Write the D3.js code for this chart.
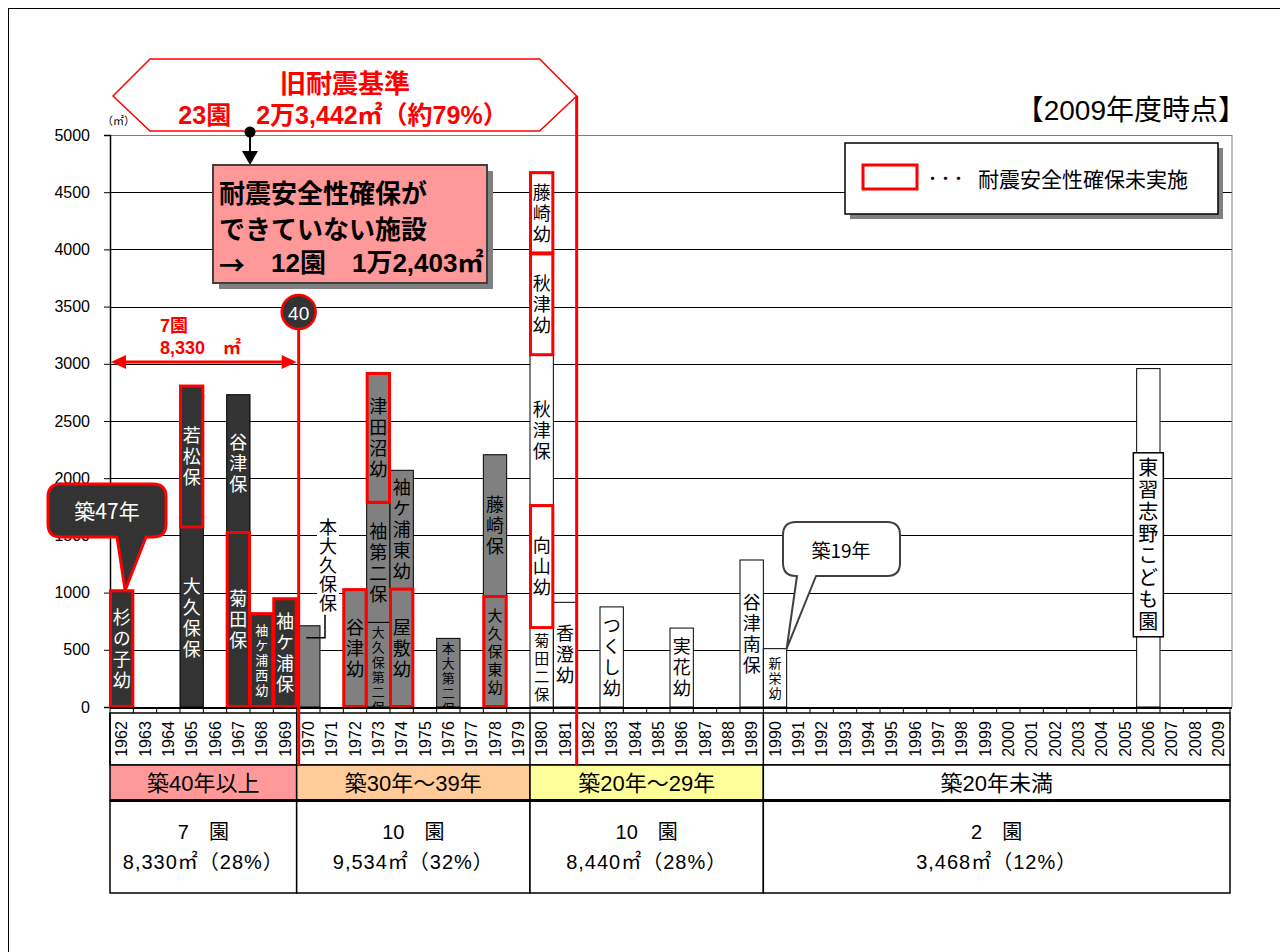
<!DOCTYPE html>
<html>
<head>
<meta charset="utf-8">
<script src="https://cdn.jsdelivr.net/npm/d3@7"></script>
<style>
  body { margin: 0; background: #fff; }
  svg { display: block; }
</style>
</head>
<body>
<svg id="chart"></svg>
<script>
// categories (construction year)
const years = [1962, 1963, 1964, 1965, 1966, 1967, 1968, 1969, 1970, 1971, 1972, 1973, 1974, 1975, 1976, 1977, 1978, 1979,
  1980, 1981, 1982, 1983, 1984, 1985, 1986, 1987, 1988, 1989, 1990, 1991, 1992, 1993, 1994, 1995, 1996, 1997, 1998, 1999,
  2000, 2001, 2002, 2003, 2004, 2005, 2006, 2007, 2008, 2009];

// facilities, stacked bottom to top inside each year
const segYear = [1962, 1965, 1965, 1967, 1967, 1968, 1969,
  1970, 1972, 1973, 1973, 1973, 1974, 1974, 1976, 1978, 1978,
  1980, 1980, 1980, 1980, 1980, 1981, 1983, 1986, 1989,
  1990, 2006];
const segName = ["杉の子幼", "大久保保", "若松保", "菊田保", "谷津保", "袖ケ浦西幼", "袖ケ浦保",
  "本大久保保", "谷津幼", "大久保第二保", "袖第二保", "津田沼幼", "屋敷幼", "袖ケ浦東幼", "本大第二保", "大久保東幼", "藤崎保",
  "菊田二保", "向山幼", "秋津保", "秋津幼", "藤崎幼", "香澄幼", "つくし幼", "実花幼", "谷津南保",
  "新栄幼", "東習志野こども園"];
const segArea = [1020, 1570, 1240, 1530, 1200, 820, 950,
  710, 1030, 740, 1045, 1135, 1035, 1034, 600, 970, 1235,
  690, 1075, 1310, 890, 710, 915, 875, 690, 1285,
  510, 2958];
// 耐震安全性確保未実施
const segUnsafe = [true, false, true, true, false, true, true,
  false, true, false, false, true, true, false, false, true, false,
  false, true, false, true, true, false, false, false, false,
  false, false];
const outsideLabels = ["本大久保保"];
const boxedLabels = ["東習志野こども園"];

const yTicks = [0, 500, 1000, 1500, 2000, 2500, 3000, 3500, 4000, 4500, 5000];

// age groups for the table under the chart
const groupStart = [1962, 1970, 1980, 1990];
const groupLabel = ["築40年以上", "築30年～39年", "築20年～29年", "築20年未満"];
const groupCount = ["7　園", "10　園", "10　園", "2　園"];
const groupArea = ["8,330㎡（28%）", "9,534㎡（32%）", "8,440㎡（28%）", "3,468㎡（12%）"];
const groupFill = ["#ff9999", "#ffcc99", "#ffff99", "#ffffff"];

const JP = '"Noto Sans CJK JP", sans-serif';
const MIX = '"Liberation Sans", Arial, "Noto Sans CJK JP", sans-serif';
const RED = "#ff0000";

const svg = d3.select("#chart").attr("width", 1287).attr("height", 952);

const x = d3.scaleBand().domain(years).range([110, 1230]).padding(0);
const bw = x.bandwidth();
const y = d3.scaleLinear().domain([0, 5000]).range([707, 135]);

// page frame
svg.append("line").attr("x1", 8.5).attr("x2", 8.5).attr("y1", 8).attr("y2", 952).attr("stroke", "#000");
svg.append("line").attr("x1", 8).attr("x2", 1280).attr("y1", 8.5).attr("y2", 8.5).attr("stroke", "#000");

// gridlines
svg.append("g").selectAll("line").data(yTicks.slice(1)).join("line")
  .attr("x1", 110).attr("x2", 1232)
  .attr("y1", d => Math.round(y(d)) + 0.5).attr("y2", d => Math.round(y(d)) + 0.5)
  .attr("stroke", d => d === 5000 ? "#808080" : "#000").attr("stroke-width", 1);
svg.append("line").attr("x1", 1232).attr("x2", 1232).attr("y1", y(5000)).attr("y2", y(0))
  .attr("stroke", "#808080");

// y axis
const yAxis = svg.append("g").attr("transform", "translate(110,0)")
  .call(d3.axisLeft(y).tickValues(yTicks).tickSize(6).tickPadding(14).tickFormat(d3.format("d")));
yAxis.select(".domain").attr("stroke-width", 1.5);
yAxis.selectAll("text").style("font-family", MIX).style("font-size", "16px").attr("fill", "#000");
svg.append("text").attr("x", 102).attr("y", 125).text("（㎡）")
  .style("font-family", JP).style("font-size", "11px");

// stacked segments
const segs = segName.map((n, i) => ({ name: n, year: segYear[i], area: segArea[i], unsafe: segUnsafe[i] }));
const acc = {};
segs.forEach(s => { s.y0 = acc[s.year] || 0; s.y1 = s.y0 + s.area; acc[s.year] = s.y1; });
const fillFor = yr => yr < 1970 ? "#333333" : yr < 1980 ? "#808080" : "#ffffff";

svg.append("defs").append("clipPath").attr("id", "plotclip")
  .append("rect").attr("x", 110).attr("y", y(5000)).attr("width", 1122).attr("height", y(0) - y(5000));

const barG = svg.append("g");
barG.selectAll("rect").data(segs).join("rect")
  .attr("x", d => x(d.year)).attr("y", d => y(d.y1))
  .attr("width", bw).attr("height", d => y(d.y0) - y(d.y1))
  .attr("fill", d => fillFor(d.year)).attr("stroke", "#000").attr("stroke-width", 1);

barG.append("g").selectAll("rect").data(segs.filter(d => d.unsafe)).join("rect")
  .attr("x", d => x(d.year) + 0.5).attr("y", d => y(d.y1) + 0.5)
  .attr("width", bw - 1).attr("height", d => y(d.y0) - y(d.y1) - 1)
  .attr("fill", "none").attr("stroke", RED).attr("stroke-width", 3);

// vertical text, centred on (cx, cy)
function vtext(g, str, cx, cy, size, step, color, weight) {
  const ls = step - size;
  return g.append("text").attr("x", cx).attr("y", cy + ls / 2)
    .attr("text-anchor", "middle")
    .style("writing-mode", "vertical-rl")
    .style("letter-spacing", ls + "px")
    .style("font-family", JP).style("font-size", size + "px")
    .style("font-weight", weight || "normal").attr("fill", color)
    .text(str);
}

const tiers = [{ size: 18, step: 21 }, { size: 15, step: 18 }, { size: 13, step: 15 }];
const labelG = svg.append("g").attr("clip-path", "url(#plotclip)");
segs.forEach(s => {
  const n = Array.from(s.name).length;
  const top = y(s.y1), bot = y(s.y0), h = bot - top;
  const cx = x(s.year) + bw / 2;
  const col = s.year < 1970 ? "#fff" : "#000";
  if (outsideLabels.includes(s.name)) {
    const tx = x(s.year) + bw + 8, tTop = top - 110;
    labelG.append("rect").attr("x", tx - 11).attr("y", tTop).attr("width", 22).attr("height", n * 19 + 4).attr("fill", "#fff");
    vtext(labelG, s.name, tx, tTop + 2 + n * 19 / 2, 18, 19, "#000");
    labelG.append("path")
      .attr("d", `M${cx - 2},${top + 12}H${tx - 3}V${tTop + n * 19 + 4}`)
      .attr("fill", "none").attr("stroke", "#000").attr("stroke-width", 1.5);
    return;
  }
  if (boxedLabels.includes(s.name)) {
    const step = 22, bh = n * step + 8, cy = (top + bot) / 2 + 7;
    labelG.append("rect").attr("x", cx - 15).attr("y", cy - bh / 2).attr("width", 30).attr("height", bh)
      .attr("fill", "#fff").attr("stroke", "#000").attr("stroke-width", 1.5);
    vtext(labelG, s.name, cx, cy, 20, step, "#000");
    return;
  }
  let tier = tiers.find(t => n * t.step <= h - 6);
  if (tier) {
    vtext(labelG, s.name, cx, (top + bot) / 2, tier.size, tier.step, col);
  } else {
    tier = tiers[tiers.length - 1];
    vtext(labelG, s.name, cx, top + 2 + n * tier.step / 2, tier.size, tier.step, col);
  }
});

// x axis, ticks and year label box
svg.append("line").attr("x1", 110).attr("x2", 1232).attr("y1", 708).attr("y2", 708)
  .attr("stroke", "#000").attr("stroke-width", 2);
svg.append("g").selectAll("line").data(years.concat([null])).join("line")
  .attr("x1", d => d === null ? 1230 : x(d)).attr("x2", d => d === null ? 1230 : x(d))
  .attr("y1", 708).attr("y2", 713).attr("stroke", "#000");
svg.append("rect").attr("x", 110).attr("y", 713).attr("width", 1120).attr("height", 52)
  .attr("fill", "none").attr("stroke", "#000").attr("stroke-width", 1.5);
svg.append("g").selectAll("text").data(years).join("text")
  .attr("transform", d => `translate(${x(d) + bw / 2},739) rotate(-90)`)
  .attr("text-anchor", "middle").attr("dominant-baseline", "central")
  .style("font-family", MIX).style("font-size", "16px").text(d => d);

// table
const gx0 = i => x(groupStart[i]);
const gx1 = i => i < groupStart.length - 1 ? x(groupStart[i + 1]) : 1230;
const tbl = svg.append("g");
groupStart.forEach((g, i) => {
  tbl.append("line").attr("x1", gx0(i)).attr("x2", gx0(i)).attr("y1", 713).attr("y2", 765)
    .attr("stroke", "#000").attr("stroke-width", 1.5);
  tbl.append("rect").attr("x", gx0(i)).attr("y", 765).attr("width", gx1(i) - gx0(i)).attr("height", 35)
    .attr("fill", groupFill[i]).attr("stroke", "#000").attr("stroke-width", 1.5);
  tbl.append("rect").attr("x", gx0(i)).attr("y", 800).attr("width", gx1(i) - gx0(i)).attr("height", 93)
    .attr("fill", "#fff").attr("stroke", "#000").attr("stroke-width", 1.5);
  const cx = (gx0(i) + gx1(i)) / 2;
  tbl.append("text").attr("x", cx).attr("y", 783).text(groupLabel[i])
    .attr("text-anchor", "middle").attr("dominant-baseline", "central")
    .style("font-family", MIX).style("font-size", "22px");
  tbl.append("text").attr("x", cx).attr("y", 832).text(groupCount[i])
    .attr("text-anchor", "middle").attr("dominant-baseline", "central")
    .style("font-family", MIX).style("font-size", "20px");
  tbl.append("text").attr("x", cx).attr("y", 862).text(groupArea[i])
    .attr("text-anchor", "middle").attr("dominant-baseline", "central")
    .style("letter-spacing", "1px")
    .style("font-family", MIX).style("font-size", "20px");
});
tbl.append("line").attr("x1", 110).attr("x2", 1230).attr("y1", 800.5).attr("y2", 800.5)
  .attr("stroke", "#000").attr("stroke-width", 3);

// red divider lines
const xOld = x(1982);
const x40 = x(1970) + 2;
svg.append("line").attr("x1", xOld).attr("x2", xOld).attr("y1", 96).attr("y2", 765)
  .attr("stroke", RED).attr("stroke-width", 3);
svg.append("line").attr("x1", x40).attr("x2", x40).attr("y1", 328).attr("y2", 765)
  .attr("stroke", RED).attr("stroke-width", 3);

// 旧耐震基準 banner
svg.append("polygon")
  .attr("points", [[113, 96], [150, 59], [xOld - 37, 59], [xOld, 96], [xOld - 37, 131], [150, 131]].map(p => p.join(",")).join(" "))
  .attr("fill", "#fff").attr("stroke", RED).attr("stroke-width", 1.5);
svg.append("text").attr("x", 345).attr("y", 81).text("旧耐震基準")
  .attr("text-anchor", "middle").attr("dominant-baseline", "central")
  .style("font-family", JP).style("font-size", "26px").style("font-weight", "bold").attr("fill", RED);
svg.append("text").attr("x", 343).attr("y", 115).text("23園　2万3,442㎡（約79%）")
  .attr("text-anchor", "middle").attr("dominant-baseline", "central")
  .style("font-family", MIX).style("font-size", "25px").style("font-weight", "bold").attr("fill", RED);

// pointer to the pink box
svg.append("line").attr("x1", 250).attr("x2", 250).attr("y1", 132).attr("y2", 152).attr("stroke", "#000").attr("stroke-width", 2);
svg.append("circle").attr("cx", 250).attr("cy", 132).attr("r", 5.5).attr("fill", "#000");
svg.append("path").attr("d", "M242,151L258,151L250,165Z").attr("fill", "#000");

// pink box
svg.append("rect").attr("x", 219).attr("y", 171).attr("width", 274).attr("height", 118).attr("fill", "#808080");
svg.append("rect").attr("x", 213).attr("y", 165).attr("width", 274).attr("height", 118)
  .attr("fill", "#ff9999").attr("stroke", "#404040").attr("stroke-width", 2);
svg.append("text").attr("x", 219).attr("y", 191).text("耐震安全性確保が")
  .attr("dominant-baseline", "central")
  .style("font-family", JP).style("font-size", "26px").style("font-weight", "bold");
svg.append("text").attr("x", 219).attr("y", 227).text("できていない施設")
  .attr("dominant-baseline", "central")
  .style("font-family", JP).style("font-size", "26px").style("font-weight", "bold");
const line3 = svg.append("text").attr("x", 219).attr("y", 263)
  .attr("dominant-baseline", "central")
  .style("font-family", MIX).style("font-size", "26px").style("font-weight", "bold");
line3.append("tspan").style("font-family", JP).text("→　");
line3.append("tspan").text("12園　1万2,403㎡");

// 40 marker
svg.append("circle").attr("cx", x40).attr("cy", 312).attr("r", 17)
  .attr("fill", "#333").attr("stroke", RED).attr("stroke-width", 2.5);
svg.append("text").attr("x", x40).attr("y", 313).text("40")
  .attr("text-anchor", "middle").attr("dominant-baseline", "central")
  .style("font-family", MIX).style("font-size", "19px").attr("fill", "#fff");

// 7園 double arrow
const ay = 362;
svg.append("line").attr("x1", 124).attr("x2", x(1970) - 12).attr("y1", ay).attr("y2", ay)
  .attr("stroke", RED).attr("stroke-width", 3);
svg.append("path").attr("d", `M111,${ay}L126,${ay - 7}L126,${ay + 7}Z`).attr("fill", RED);
svg.append("path").attr("d", `M${x(1970)},${ay}L${x(1970) - 15},${ay - 7}L${x(1970) - 15},${ay + 7}Z`).attr("fill", RED);
svg.append("text").attr("x", 160).attr("y", 326).text("7園")
  .attr("dominant-baseline", "central")
  .style("font-family", MIX).style("font-size", "18px").style("font-weight", "bold").attr("fill", RED);
svg.append("text").attr("x", 160).attr("y", 348).text("8,330　㎡")
  .attr("dominant-baseline", "central")
  .style("font-family", MIX).style("font-size", "18px").style("font-weight", "bold").attr("fill", RED);

// callouts
function callout(x0, y0, x1, y1, r, b1, b2, tx, ty) {
  return `M${x0 + r},${y0}H${x1 - r}Q${x1},${y0} ${x1},${y0 + r}V${y1 - r}Q${x1},${y1} ${x1 - r},${y1}` +
    `H${b2}L${tx},${ty}L${b1},${y1}H${x0 + r}Q${x0},${y1} ${x0},${y1 - r}V${y0 + r}Q${x0},${y0} ${x0 + r},${y0}Z`;
}
svg.append("path").attr("d", callout(48, 484, 166, 537, 13, 117, 146, x(1962) + bw * 0.65, y(segArea[0])))
  .attr("fill", "#333").attr("stroke", RED).attr("stroke-width", 3).attr("stroke-linejoin", "round");
svg.append("text").attr("x", 107).attr("y", 510).text("築47年")
  .attr("text-anchor", "middle").attr("dominant-baseline", "central")
  .style("font-family", JP).style("font-size", "21px").attr("fill", "#fff");

const shinei = segs.find(s => s.name === "新栄幼");
svg.append("path").attr("d", callout(783, 522, 900, 576, 13, 797, 816, x(shinei.year) + bw, y(shinei.y1)))
  .attr("fill", "#fff").attr("stroke", "#404040").attr("stroke-width", 2).attr("stroke-linejoin", "round");
svg.append("text").attr("x", 841).attr("y", 549).text("築19年")
  .attr("text-anchor", "middle").attr("dominant-baseline", "central")
  .style("font-family", JP).style("font-size", "19px");

// legend
svg.append("rect").attr("x", 850).attr("y", 148).attr("width", 373).attr("height", 71).attr("fill", "#808080");
svg.append("rect").attr("x", 845).attr("y", 143).attr("width", 373).attr("height", 71)
  .attr("fill", "#fff").attr("stroke", "#000").attr("stroke-width", 1.5);
svg.append("rect").attr("x", 863).attr("y", 165).attr("width", 54).attr("height", 24)
  .attr("fill", "none").attr("stroke", RED).attr("stroke-width", 3);
svg.append("text").attr("x", 926).attr("y", 177).text("・・・")
  .attr("dominant-baseline", "central")
  .style("font-family", JP).style("font-size", "13px").style("font-weight", "bold");
svg.append("text").attr("x", 978).attr("y", 178).text("耐震安全性確保未実施")
  .attr("dominant-baseline", "central")
  .style("font-family", JP).style("font-size", "21px");

// as-of label
svg.append("text").attr("x", 1246).attr("y", 110).text("【2009年度時点】")
  .attr("text-anchor", "end").attr("dominant-baseline", "central")
  .style("font-family", MIX).style("font-size", "28px");
</script>
</body>
</html>
